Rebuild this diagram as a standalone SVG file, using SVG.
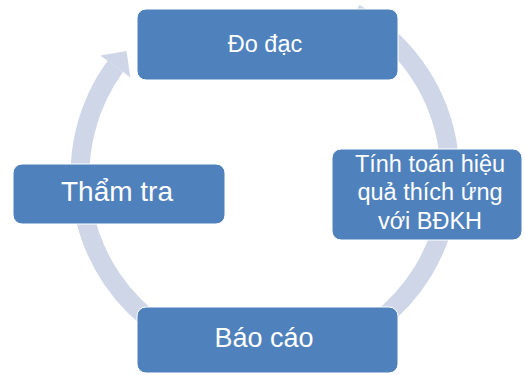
<svg xmlns="http://www.w3.org/2000/svg" width="525" height="375" viewBox="0 0 525 375">
<style>
.box{fill:#4F81BD;stroke:#ffffff;stroke-width:1}
.t{fill:#ffffff;font-family:"Liberation Sans",Arial,sans-serif;text-anchor:middle}
.ring{fill:none;stroke:#CED6E7;stroke-width:19}
</style>
<rect width="525" height="375" fill="#ffffff"/>
<g id="connectors">
<path class="ring" d="M354.7,13.2 A185,185 0 1 1 115.3,66.3"/>
<polygon points="100.3,55.4 126.5,50.9 130.3,77.2" fill="#CED6E7"/>
</g>
<g id="node-do-dac">
<rect class="box" x="137" y="9" width="261" height="71" rx="9"/>
<text class="t" x="265" y="52" font-size="23.5">Đo đạc</text>
</g>
<g id="node-tinh-toan">
<rect class="box" x="332" y="149" width="190" height="91" rx="9"/>
<text class="t" x="430" y="172" font-size="23.5">Tính toán hiệu</text>
<text class="t" x="430" y="200" font-size="23.5">quả thích ứng</text>
<text class="t" x="430" y="229" font-size="23.5">với BĐKH</text>
</g>
<g id="node-bao-cao">
<rect class="box" x="137" y="307" width="261" height="66" rx="9"/>
<text class="t" x="264" y="346.5" font-size="27">Báo cáo</text>
</g>
<g id="node-tham-tra">
<rect class="box" x="13" y="164" width="212" height="60" rx="9"/>
<text class="t" x="117" y="200.5" font-size="28">Thẩm tra</text>
</g>
</svg>
